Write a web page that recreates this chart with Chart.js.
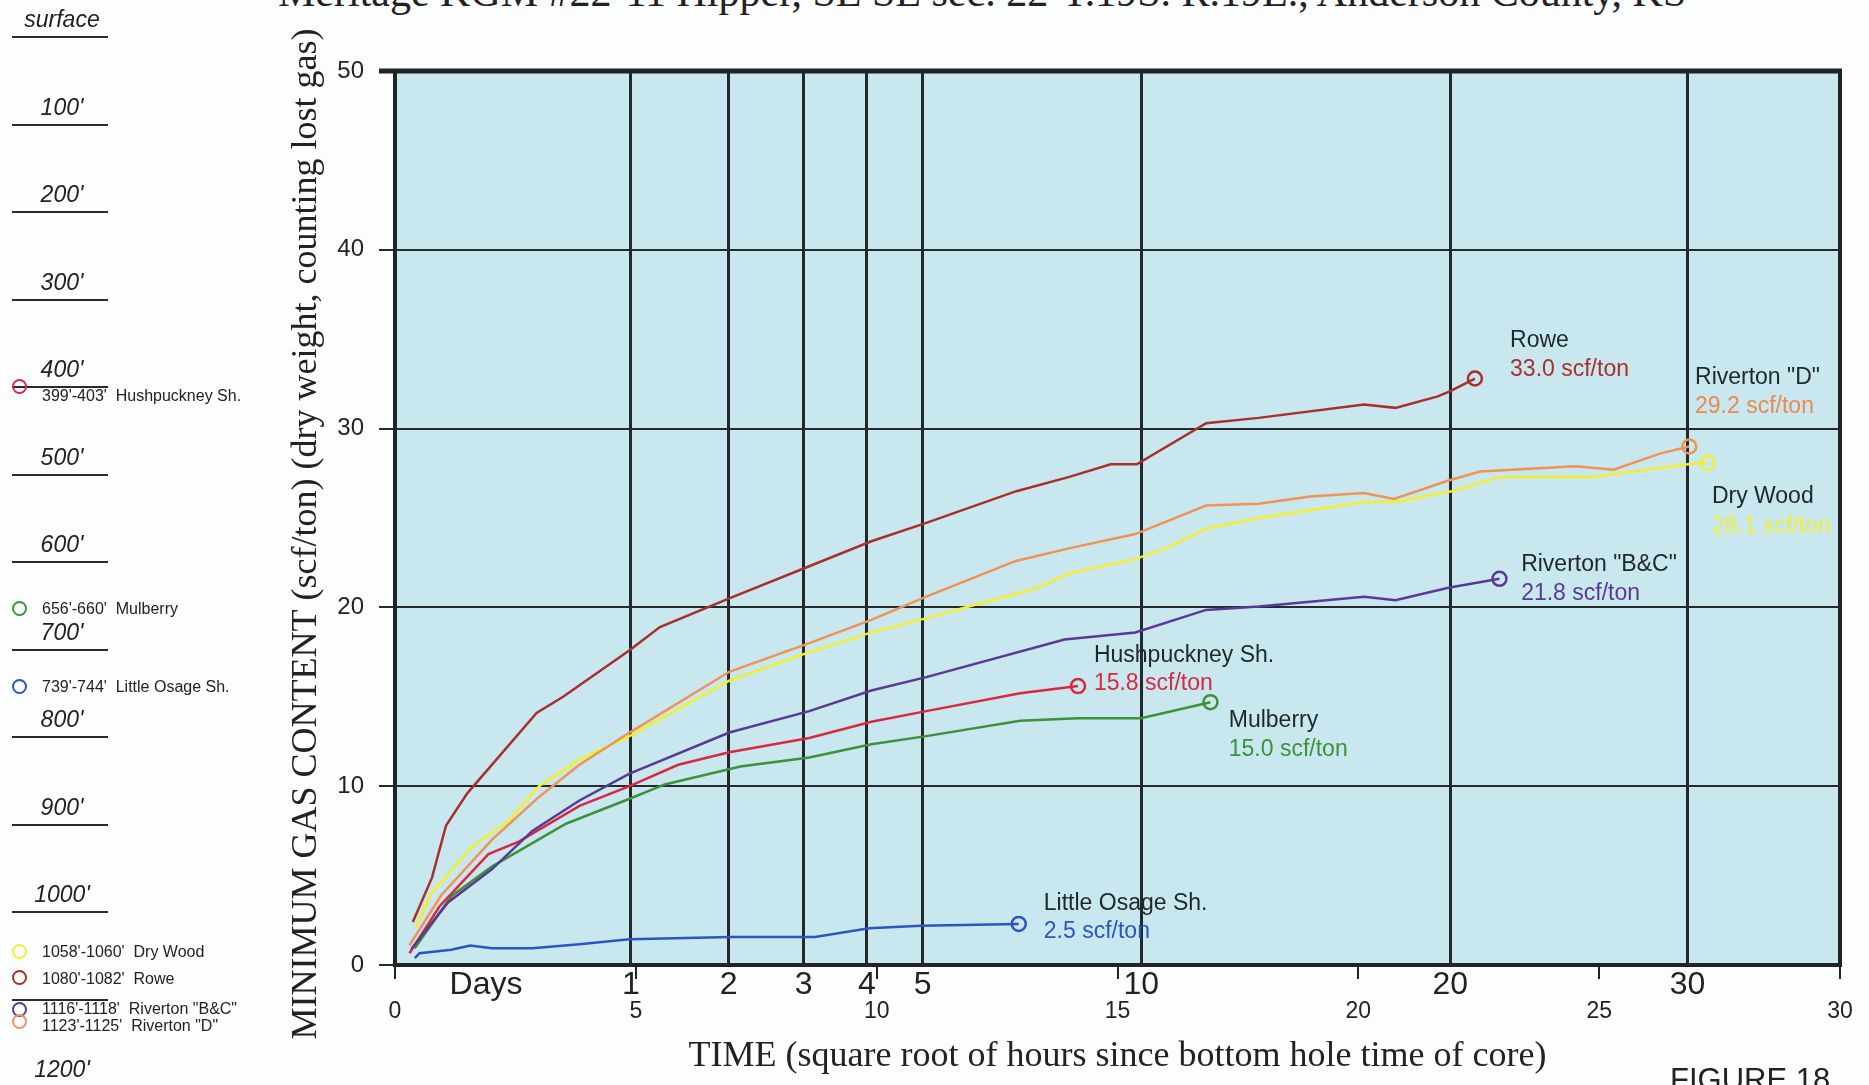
<!DOCTYPE html>
<html>
<head>
<meta charset="utf-8">
<script src="https://cdn.jsdelivr.net/npm/chart.js@4.4.1/dist/chart.umd.min.js"></script>
<style>
  html, body { margin: 0; padding: 0; background: #fcfdfd; }
  #wrap { position: relative; width: 1869px; height: 1085px; overflow: hidden; }
  #c { position: absolute; left: 0; top: 0; }
  .depth { position: absolute; left: 12px; width: 96px; height: 0; border-top: 2.5px solid #2a2a2a; }
  .dlab { position: absolute; width: 120px; left: 2px; text-align: center; font: italic 23px "Liberation Sans", Arial, sans-serif; color: #222; line-height: 1; }
  .leg { position: absolute; left: 12px; font: 16px "Liberation Sans", Arial, sans-serif; color: #222; white-space: pre; line-height: 1; }
  .leg i { position: absolute; left: 0; top: 0; width: 11px; height: 11px; margin-top: -8px; border: 2.5px solid; border-radius: 50%; }
  .leg span { position: absolute; left: 30px; top: 0; transform: translateY(-50%); }
  #title { position: absolute; left: 278px; top: -29px; font: 42px "Liberation Serif", "Times New Roman", serif; color: #222; white-space: nowrap; line-height: 1; }
  #fig { position: absolute; left: 1670px; top: 1064px; font: 31px "Liberation Sans", Arial, sans-serif; color: #222; line-height: 1; }
</style>
</head>
<body>
<div id="wrap">
  <div id="title">Meritage KGM #22-11 Hipper, SE SE sec. 22-T.19S. R.19E., Anderson County, KS</div>
  <canvas id="c" width="1869" height="1085"></canvas>
  <div id="fig">FIGURE 18</div>
</div>
<script>
// ---------------- data ----------------
const depthLabels = ["surface", "100'", "200'", "300'", "400'", "500'", "600'", "700'", "800'", "900'", "1000'", "", "1200'"];

const legendDepths = ["399'-403'", "656'-660'", "739'-744'", "1058'-1060'", "1080'-1082'", "1116'-1118'", "1123'-1125'"];
const legendNames  = ["Hushpuckney Sh.", "Mulberry", "Little Osage Sh.", "Dry Wood", "Rowe", "Riverton \"B&C\"", "Riverton \"D\""];

const seriesNames  = ["Rowe", "Riverton \"D\"", "Dry Wood", "Riverton \"B&C\"", "Hushpuckney Sh.", "Mulberry", "Little Osage Sh."];
const seriesTotals = ["33.0 scf/ton", "29.2 scf/ton", "28.1 scf/ton", "21.8 scf/ton", "15.8 scf/ton", "15.0 scf/ton", "2.5 scf/ton"];

// x = square root of hours, y = gas content (scf/ton)
const roweX = [0.37, 0.77, 1.06, 1.5, 2.94, 3.49, 4.87, 5.5, 6.94, 8.6, 9.89, 11.0, 12.9, 14.0, 14.86, 15.4, 16.84, 17.93, 20.12, 20.77, 21.65, 21.91, 22.42];
const roweY = [2.4, 4.9, 7.8, 9.6, 14.1, 15.0, 17.6, 18.9, 20.5, 22.3, 23.7, 24.7, 26.5, 27.3, 28.0, 28.0, 30.3, 30.6, 31.35, 31.16, 31.8, 32.1, 32.8];

const rivDX = [0.30, 0.96, 2.01, 2.99, 3.83, 4.87, 6.94, 8.6, 9.89, 11.03, 12.89, 13.99, 15.37, 16.84, 17.93, 19.0, 20.12, 20.74, 21.87, 22.53, 24.5, 25.3, 26.26, 26.87];
const rivDY = [1.1, 3.9, 7.0, 9.4, 11.2, 13.0, 16.4, 18.0, 19.3, 20.6, 22.6, 23.3, 24.1, 25.7, 25.8, 26.2, 26.4, 26.06, 27.1, 27.6, 27.9, 27.7, 28.6, 29.0];

const dryX = [0.44, 0.75, 1.59, 2.33, 2.99, 3.83, 4.87, 6.94, 8.6, 9.89, 11.03, 11.78, 13.35, 13.99, 15.37, 16.0, 16.84, 17.93, 20.12, 20.77, 21.94, 22.96, 24.86, 26.84, 27.25];
const dryY = [2.16, 4.0, 6.6, 8.0, 10.0, 11.5, 12.8, 15.9, 17.5, 18.6, 19.4, 19.95, 21.1, 21.9, 22.7, 23.3, 24.4, 25.0, 25.9, 25.9, 26.5, 27.3, 27.3, 28.0, 28.1];

const rivBCX = [0.34, 1.1, 2.01, 2.85, 3.83, 4.87, 6.94, 8.6, 9.89, 11.03, 13.9, 15.37, 16.84, 17.93, 20.12, 20.77, 21.87, 22.93];
const rivBCY = [0.9, 3.5, 5.35, 7.5, 9.2, 10.7, 13.0, 14.2, 15.35, 16.1, 18.2, 18.6, 19.86, 20.05, 20.6, 20.4, 21.1, 21.6];

const hushX = [0.3, 0.93, 1.94, 2.57, 3.83, 4.87, 5.88, 6.94, 8.6, 9.89, 11.03, 12.98, 14.18];
const hushY = [0.66, 3.3, 6.2, 6.9, 8.9, 10.0, 11.2, 11.9, 12.7, 13.6, 14.2, 15.2, 15.6];

const mulX = [0.41, 1.17, 2.01, 3.55, 4.87, 5.6, 7.17, 8.6, 9.89, 11.03, 12.98, 14.18, 15.49, 16.93];
const mulY = [0.94, 3.85, 5.5, 7.9, 9.3, 10.1, 11.1, 11.6, 12.35, 12.8, 13.66, 13.8, 13.8, 14.7];

const osageX = [0.41, 0.51, 1.17, 1.56, 2.01, 2.85, 3.83, 4.87, 6.96, 8.72, 9.84, 10.92, 12.95];
const osageY = [0.38, 0.66, 0.85, 1.09, 0.94, 0.94, 1.16, 1.44, 1.56, 1.56, 2.06, 2.2, 2.3];

const yTicks = [0, 10, 20, 30, 40, 50];
const hourTicks = [0, 5, 10, 15, 20, 25, 30];
const dayTicks = [1, 2, 3, 4, 5, 10, 20, 30];

const yTitle = 'MINIMUM GAS CONTENT (scf/ton) (dry weight, counting lost gas)';
const xTitle = 'TIME (square root of hours since bottom hole time of core)';

// ---------------- styles / layout ----------------
const seriesColors = ["#a8302b", "#ef9356", "#f4ef2e", "#5a3996", "#d92841", "#3c923a", "#2b55c2"];
const legendColors = ["#d92841", "#3c923a", "#2b55c2", "#f4ef2e", "#a8302b", "#5a3996", "#ef9356"];
const valueTextColors = ["#a8302b", "#e98a4e", "#f1ee3a", "#5a3996", "#d92841", "#3c923a", "#2b55c2"];
const legendY = [387, 609, 687, 952, 978, 1010, 1022];
const legendTextY = [396, 609, 687, 952, 979, 1009, 1026];
// label anchors (data units): [x, y of name, y of value]
const labelAnchors = [[23.15, 34.9, 33.3], [26.99, 32.85, 31.25], [27.34, 26.2, 24.5], [23.38, 22.4, 20.76], [14.51, 17.3, 15.72], [17.31, 13.65, 12.03], [13.47, 3.41, 1.85]];
const daysWordX = 1.89;

// ---------------- side column (depths + legend) ----------------
const wrap = document.getElementById('wrap');
depthLabels.forEach((t, k) => {
  const ly = 37 + 87.5 * k;
  const line = document.createElement('div');
  line.className = 'depth';
  line.style.top = (ly - 1) + 'px';
  wrap.appendChild(line);
  if (t) {
    const lab = document.createElement('div');
    lab.className = 'dlab';
    lab.textContent = t;
    lab.style.top = (ly - 29) + 'px';
    wrap.appendChild(lab);
  }
});
legendNames.forEach((n, i) => {
  const d = document.createElement('div');
  d.className = 'leg';
  d.style.top = legendY[i] + 'px';
  const c = document.createElement('i');
  c.style.borderColor = legendColors[i];
  d.appendChild(c);
  const s = document.createElement('span');
  s.textContent = legendDepths[i] + '  ' + n;
  s.style.top = (legendTextY[i] - legendY[i]) + 'px';
  d.appendChild(s);
  wrap.appendChild(d);
});

// ---------------- chart ----------------
const pairs = [[roweX, roweY], [rivDX, rivDY], [dryX, dryY], [rivBCX, rivBCY], [hushX, hushY], [mulX, mulY], [osageX, osageY]];
const datasets = pairs.map((p, i) => ({
  label: seriesNames[i],
  data: p[0].map((x, j) => ({x: x, y: p[1][j]})),
  borderColor: seriesColors[i],
  backgroundColor: 'rgba(0,0,0,0)',
  borderWidth: 2.5,
  showLine: true,
  tension: 0,
  pointRadius: ctx => ctx.dataIndex === p[0].length - 1 ? 7 : 0,
  pointHoverRadius: ctx => ctx.dataIndex === p[0].length - 1 ? 7 : 0,
  pointBorderWidth: 2.5,
  pointBorderColor: seriesColors[i],
  pointBackgroundColor: 'rgba(0,0,0,0)',
  xAxisID: 'x',
  yAxisID: 'y'
}));

const framePlugin = {
  id: 'frame',
  beforeDraw(chart) {
    const {ctx, chartArea: a} = chart;
    ctx.save();
    ctx.fillStyle = '#c9e7ee';
    ctx.fillRect(a.left, a.top, a.right - a.left, a.bottom - a.top);
    ctx.restore();
  },
  beforeDatasetsDraw(chart) {
    const {ctx, chartArea: a} = chart;
    ctx.save();
    ctx.strokeStyle = '#1f2525';
    ctx.lineWidth = 4;
    ctx.strokeRect(a.left, a.top, a.right - a.left, a.bottom - a.top);
    ctx.lineWidth = 5;
    ctx.beginPath();
    ctx.moveTo(a.left - 16, a.top);
    ctx.lineTo(a.right + 2, a.top);
    ctx.stroke();
    ctx.restore();
  },
  afterDatasetsDraw(chart) {
    const {ctx} = chart;
    const xs = chart.scales.x, ys = chart.scales.y;
    ctx.save();
    ctx.font = '23px "Liberation Sans", Arial, sans-serif';
    ctx.textAlign = 'left';
    ctx.textBaseline = 'middle';
    labelAnchors.forEach((an, i) => {
      const px = xs.getPixelForValue(an[0]);
      ctx.fillStyle = '#1e2828';
      ctx.fillText(seriesNames[i], px, ys.getPixelForValue(an[1]));
      ctx.fillStyle = valueTextColors[i];
      ctx.fillText(seriesTotals[i], px, ys.getPixelForValue(an[2]));
    });
    ctx.restore();
    // y axis title
    ctx.save();
    ctx.translate(307, 534);
    ctx.rotate(-Math.PI / 2);
    ctx.font = '36px "Liberation Serif", "Times New Roman", serif';
    ctx.fillStyle = '#222';
    ctx.textAlign = 'center';
    ctx.textBaseline = 'middle';
    ctx.fillText(yTitle, 0, 0);
    ctx.restore();
  }
};

const dayTickValues = [daysWordX].concat(dayTicks.map(d => Math.sqrt(24 * d)));
const dayTickLabels = ['Days'].concat(dayTicks.map(String));
const noLabelClip = s => { s._computeLabelArea = () => null; };

new Chart(document.getElementById('c'), {
  type: 'scatter',
  data: { datasets },
  options: {
    responsive: false,
    animation: false,
    events: [],
    layout: { padding: { left: 282, right: 29, top: 71, bottom: 0 } },
    plugins: { legend: { display: false }, tooltip: { enabled: false } },
    scales: {
      y: {
        type: 'linear', min: 0, max: 50, position: 'left',
        afterBuildTicks: s => { s.ticks = yTicks.map(v => ({value: v})); },
        afterFit: s => { s.width = 113; },
        border: { display: false },
        grid: { color: '#252b2b', lineWidth: 2, tickLength: 16, drawTicks: true },
        ticks: { padding: 15, color: '#222', font: { family: '"Liberation Sans", Arial, sans-serif', size: 24, lineHeight: 1.2 } },
        title: { display: false, text: yTitle }
      },
      days: {
        type: 'linear', min: 0, max: 30, position: 'bottom', weight: 0,
        afterBuildTicks: s => { s.ticks = dayTickValues.map(v => ({value: v})); },
        afterFit: s => { s.height = 0; noLabelClip(s); },
        border: { display: false },
        grid: { drawOnChartArea: true, drawTicks: false, lineWidth: 3,
                color: ctx => (ctx.tick && ctx.tick.value === daysWordX) ? 'rgba(0,0,0,0)' : '#232929' },
        ticks: { autoSkip: false, maxRotation: 0, minRotation: 0, padding: 1, color: '#222',
                 font: { family: '"Liberation Sans", Arial, sans-serif', size: 32, lineHeight: 1.2 },
                 callback: (v, i) => dayTickLabels[i] }
      },
      x: {
        type: 'linear', min: 0, max: 30, position: 'bottom', weight: 1,
        afterBuildTicks: s => { s.ticks = hourTicks.map(v => ({value: v})); },
        afterFit: s => { s.height = 120; noLabelClip(s); },
        border: { display: false },
        grid: { drawOnChartArea: false, drawTicks: true, tickLength: 14, lineWidth: 2, color: '#1f2525' },
        ticks: { autoSkip: false, maxRotation: 0, minRotation: 0, padding: 16, color: '#222',
                 font: { family: '"Liberation Sans", Arial, sans-serif', size: 23, lineHeight: 1.45 } },
        title: { display: true, text: xTitle, color: '#222',
                 font: { family: '"Liberation Serif", "Times New Roman", serif', size: 36, lineHeight: 1.2 }, padding: { top: 0, bottom: 7 } }
      }
    }
  },
  plugins: [framePlugin]
});
</script>
</body>
</html>
